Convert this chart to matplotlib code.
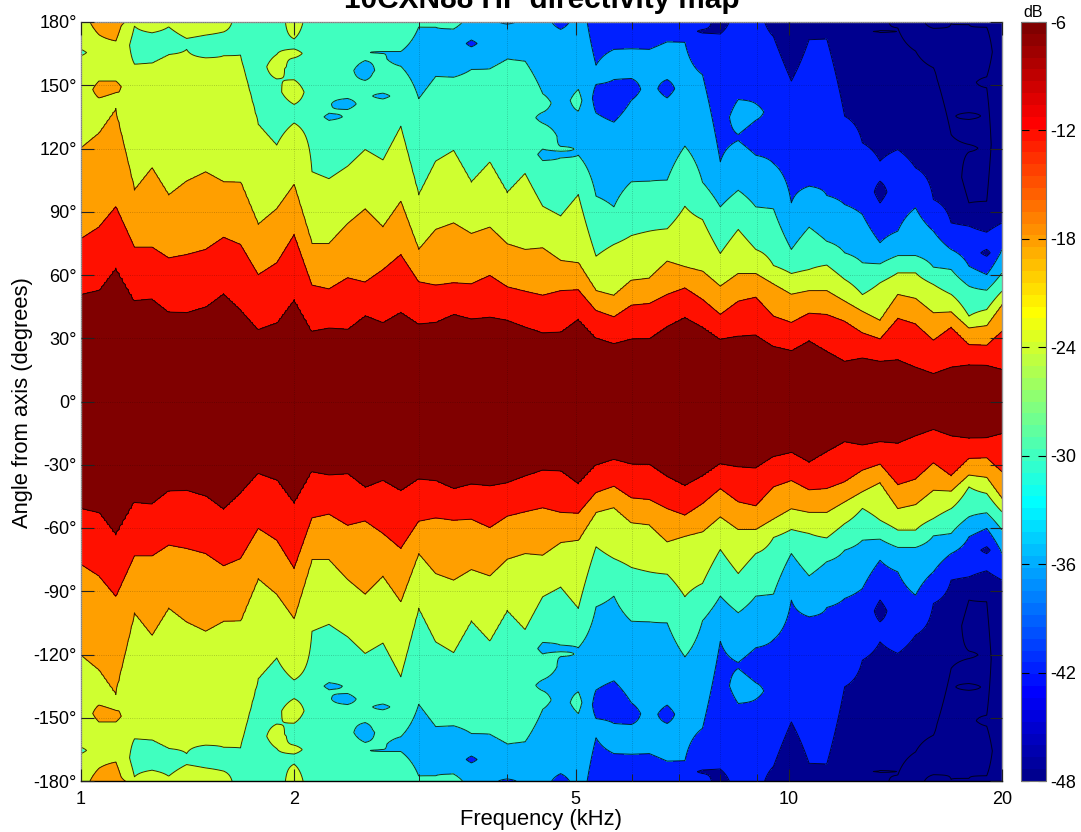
import matplotlib
matplotlib.use("Agg")
import matplotlib.pyplot as plt
import numpy as np
from matplotlib.cm import ScalarMappable
from matplotlib.colors import ListedColormap, Normalize
from matplotlib.ticker import FixedLocator, NullFormatter

plt.rcParams['font.family'] = ['Liberation Sans', 'DejaVu Sans']

# measured frequencies (1/12 octave), kHz
freqs = [1.00, 1.06, 1.12, 1.19, 1.26, 1.33, 1.41, 1.50, 1.59, 1.68, 1.78, 1.89, 2.00,
         2.12, 2.24, 2.38, 2.52, 2.67, 2.83, 3.00, 3.17, 3.36, 3.56, 3.78, 4.00, 4.24,
         4.49, 4.76, 5.04, 5.34, 5.66, 5.99, 6.35, 6.73, 7.13, 7.55, 8.00, 8.48, 8.98,
         9.51, 10.08, 10.68, 11.31, 11.99, 12.70, 13.45, 14.25, 15.10, 16.00, 16.95,
         17.96, 19.03, 20.00]

# angle where the level drops through -6, -12, -18 dB, read per frequency
edge_6db = [50.8, 52.8, 63.4, 47.9, 48.7, 42.5, 42.2, 44.9, 51.2, 43.6, 34.2, 37.3, 48.4,
            33.4, 34.9, 34.3, 40.8, 37.5, 42.4, 36.8, 37.6, 41.4, 39.2, 40.0, 38.6, 35.4,
            32.6, 33.0, 39.2, 30.2, 27.5, 29.7, 29.9, 35.7, 40.0, 35.4, 29.6, 31.0, 31.6,
            26.2, 24.2, 28.9, 23.9, 19.1, 20.7, 19.1, 19.8, 16.3, 13.3, 16.3, 17.4, 17.2, 15.2]
edge_12db = [77.2, 82.7, 92.3, 73.2, 73.2, 68.1, 69.7, 72.1, 77.9, 74.5, 60.2, 65.8, 79.2,
             55.2, 53.4, 58.7, 56.6, 62.6, 69.7, 56.8, 55.2, 56.3, 55.8, 59.8, 54.4, 52.3,
             50.4, 52.6, 53.0, 43.2, 40.2, 45.7, 46.5, 50.8, 53.9, 48.4, 41.3, 47.6, 49.5,
             40.5, 37.5, 41.9, 41.3, 38.1, 32.6, 29.7, 39.5, 36.8, 29.1, 35.3, 27.0, 26.7, 33.4]
edge_18db = [120.3, 127.4, 139.0, 100.2, 110.8, 97.9, 104.5, 108.9, 104.2, 104.0, 84.0, 91.4, 102.9,
             74.9, 74.9, 84.4, 91.4, 82.8, 94.9, 72.1, 81.6, 84.7, 79.7, 82.7, 74.8, 72.1,
             72.9, 66.9, 65.8, 52.6, 50.3, 57.5, 58.5, 66.6, 63.9, 61.8, 54.7, 60.7, 60.7,
             55.8, 50.9, 52.6, 52.6, 47.6, 42.8, 38.4, 50.8, 48.9, 42.1, 42.5, 34.9, 36.0, 46.0]

# above -18 dB: (band, angle where the band ends) going up to 180 deg
# band n covers -48+6n .. -42+6n dB, band -1 is below -48 dB
upper_bands = [
    [(4, 164), (3, 167), (4, 180)],
    [(4, 144), (5, 152), (4, 174), (5, 180)],
    [(4, 146.5), (5, 152), (4, 171), (5, 180)],
    [(4, 160), (3, 178), (4, 180)],
    [(4, 160.6), (3, 174.9), (4, 180)],
    [(4, 164.6), (3, 177.7), (4, 180)],
    [(4, 167), (3, 172.2), (4, 180)],
    [(4, 163), (3, 173.8), (4, 180)],
    [(4, 164), (3, 175.3), (4, 180)],
    [(4, 164.3), (3, 180)],
    [(4, 131.4), (3, 180)],
    [(4, 121.6), (3, 153), (4, 164.6), (3, 180)],
    [(4, 132.1), (3, 140.9), (4, 152.6), (3, 163), (4, 167.2), (3, 172), (4, 180)],
    [(4, 108.9), (3, 180)],
    [(4, 105.7), (3, 133.4), (2, 136.6), (3, 180)],
    [(4, 111.6), (3, 138.5), (2, 143.7), (3, 180)],
    [(4, 119.5), (3, 152.3), (2, 161.7), (3, 180)],
    [(4, 114.6), (3, 143.5), (2, 146.2), (3, 165.2), (2, 166), (3, 180)],
    [(4, 130.6), (3, 159), (2, 166), (3, 180)],
    [(4, 98), (3, 143.6), (2, 177.7), (3, 180)],
    [(4, 114), (3, 154.2), (2, 177.5), (3, 180)],
    [(4, 119.1), (3, 153.8), (2, 176.7), (3, 180)],
    [(4, 104), (3, 157.5), (2, 168.2), (1, 171.4), (2, 180)],
    [(4, 113.5), (3, 157.8), (2, 180)],
    [(4, 99), (3, 162.5), (2, 179), (1, 180)],
    [(4, 108.1), (3, 161.4), (2, 180)],
    [(4, 92.6), (3, 114.3), (2, 119.7), (3, 132), (2, 137.2), (3, 146), (2, 180)],
    [(4, 88), (3, 115.6), (2, 118.7), (3, 121), (2, 176.5), (1, 180)],
    [(4, 98.2), (3, 116.8), (2, 137.7), (3, 148), (2, 180)],
    [(4, 68.9), (3, 97.4), (2, 136.9), (1, 150.4), (2, 159.5), (1, 180)],
    [(4, 74.5), (3, 92.3), (2, 132.5), (1, 152.7), (2, 167), (1, 180)],
    [(4, 78.7), (3, 104.2), (2, 142.9), (1, 153.2), (2, 167.3), (1, 180)],
    [(4, 80.8), (3, 104.5), (2, 167), (1, 180)],
    [(4, 81.9), (3, 105), (2, 144), (1, 152.7), (2, 170.6), (1, 180)],
    [(4, 92.6), (3, 121.1), (2, 170.4), (1, 180)],
    [(4, 86.3), (3, 104), (2, 155), (1, 174.8), (0, 176.4), (1, 180)],
    [(4, 70.2), (3, 92.3), (2, 113.7), (1, 174.4), (0, 180)],
    [(4, 81.6), (3, 100.2), (2, 123.8), (1, 126.6), (2, 143.2), (1, 180)],
    [(4, 72.1), (3, 92.3), (2, 116.8), (1, 133.4), (2, 141.2), (1, 180)],
    [(4, 64.5), (3, 91.4), (2, 112.9), (1, 173.1), (0, 180)],
    [(4, 60.7), (3, 72.1), (2, 94.2), (1, 152), (0, 180)],
    [(4, 62.6), (3, 82.7), (2, 102.1), (1, 171.7), (0, 180)],
    [(4, 64.7), (3, 76), (2, 97.7), (1, 172), (0, 180)],
    [(4, 57.9), (3, 70.5), (2, 93.4), (1, 135.3), (0, 180)],
    [(4, 50.7), (3, 65.8), (2, 88.7), (1, 122.7), (0, 180)],
    [(4, 56.3), (3, 65.3), (2, 75.3), (1, 94.2), (0, 104.5), (1, 114), (0, 175.2), (-1, 175.8), (0, 180)],
    [(4, 61), (3, 69.2), (2, 80.8), (1, 119.5), (0, 177.2), (-1, 180)],
    [(4, 61), (3, 69.2), (2, 91.9), (1, 110.8), (0, 166.2), (-1, 180)],
    [(4, 55.5), (3, 63.7), (2, 80.8), (1, 95.8), (0, 158.3), (-1, 177), (0, 180)],
    [(4, 50.8), (3, 62.6), (2, 72.1), (1, 84.7), (0, 126.6), (-1, 179.3), (0, 180)],
    [(4, 40.5), (3, 54.7), (2, 64.2), (1, 83.2), (0, 94.2), (-1, 118.4), (0, 121.9), (-1, 133.8),
     (0, 137), (-1, 178.8), (0, 180)],
    [(4, 43.6), (3, 52.8), (2, 60.2), (1, 68.9), (0, 72.1), (1, 80.3), (0, 95), (-1, 148.8),
     (0, 154), (-1, 177.5), (0, 180)],
    [(4, 52.3), (3, 61), (2, 72.1), (1, 84.7), (0, 180)],
]

contour_levels = [-48, -42, -36, -30, -24, -18, -12, -6]
cbar_ticks = [-6, -12, -18, -24, -30, -36, -42, -48]
angle_ticks = [-180, -150, -120, -90, -60, -30, 0, 30, 60, 90, 120, 150, 180]
freq_ticks = [1, 2, 5, 10, 20]
freq_minor = [3, 4, 6, 7, 8, 9]

SUBSTEPS = 6
half_angles = np.arange(0, 180.25, 0.25)


def band_knots(bands, x0, v0):
    # (angle, dB) knots of one frequency from its band list
    xp, fp = [x0], [v0]
    for i, (band, top) in enumerate(bands):
        mid = -45 + 6 * band
        if i == len(bands) - 1:
            xp.append(top)
            fp.append(mid)
            break
        edge = -42 + 6 * min(band, bands[i + 1][0])
        if fp[-1] == edge:
            # band sits between two crossings of the same level
            xp.append((xp[-1] + top) / 2)
            fp.append(edge + np.copysign(2, mid - edge))
        xp.append(top)
        fp.append(edge)
    return xp, fp


def shared_edges(a, b):
    # how many edges of two neighbouring columns are the same falling contour
    p = 0
    while p < min(len(a), len(b)) - 1:
        same = a[p][0] == b[p][0] and a[p + 1][0] == b[p + 1][0]
        falling = a[p + 1][0] == a[p][0] - 1
        span_a = a[p + 1][1] - a[p][1]
        span_b = b[p + 1][1] - b[p][1]
        if not (same and falling and span_a > 12 and span_b > 12):
            break
        p += 1
    return max(p, 3)


def blend_columns(a, b, t):
    # shared edges move in a straight line, the rest is mixed by value
    p = shared_edges(a, b)
    shared = [(a[i][0], a[i][1] * (1 - t) + b[i][1] * t) for i in range(p)]
    xp, fp = band_knots(shared + [(a[p][0], 180)], 0.0, -3.0)
    out = np.interp(half_angles, xp, fp)
    level = -42 + 6 * min(a[p - 1][0], a[p][0])
    edge_a, edge_b, edge_t = a[p - 1][1], b[p - 1][1], shared[-1][1]
    xa, fa = band_knots(a[p:], edge_a, level)
    xb, fb = band_knots(b[p:], edge_b, level)
    # warp only just above the moving edge, higher up the angles stay as read
    top = min(max(edge_a, edge_b) + 10, 179.5)
    rest = (np.interp(np.interp(half_angles, [edge_t, top, 180], [edge_a, top, 180]), xa, fa) * (1 - t)
            + np.interp(np.interp(half_angles, [edge_t, top, 180], [edge_b, top, 180]), xb, fb) * t)
    above = half_angles >= edge_t
    out[above] = rest[above]
    return out


all_bands = []
for k in range(len(freqs)):
    all_bands.append([(7, edge_6db[k]), (6, edge_12db[k]), (5, edge_18db[k])] + upper_bands[k])

grid_freqs, columns = [], []
for k in range(len(freqs) - 1):
    for t in np.arange(SUBSTEPS) / SUBSTEPS:
        grid_freqs.append(freqs[k] * (freqs[k + 1] / freqs[k]) ** t)
        columns.append(blend_columns(all_bands[k], all_bands[k + 1], t))
grid_freqs.append(freqs[-1])
columns.append(blend_columns(all_bands[-2], all_bands[-1], 1.0))
half_map = np.array(columns).T

# the polar map is symmetric about the axis
angles = np.concatenate([-half_angles[:0:-1], half_angles])
level_map = np.vstack([half_map[:0:-1], half_map])

W, H = 1081, 832
fig = plt.figure(figsize=(W / 100, H / 100), dpi=100)
ax = fig.add_axes([81 / W, 1 - 781 / H, 921 / W, 759 / H])
cax = fig.add_axes([1021 / W, 1 - 781 / H, 25 / W, 759 / H])

# MATLAB style jet with 64 steps
x = (np.arange(64) + 1) / 64
jet64 = np.clip(np.column_stack([np.minimum(4 * x - 1.5, 4.5 - 4 * x),
                                 np.minimum(4 * x - 0.5, 3.5 - 4 * x),
                                 np.minimum(4 * x + 0.5, 2.5 - 4 * x)]), 0, 1)
cmap = ListedColormap(jet64)
norm = Normalize(-48, -6)
fill_levels = [-70] + contour_levels + [10]
fill_colors = [cmap(norm(-48))] + [cmap(norm(v)) for v in contour_levels]

ax.contourf(grid_freqs, angles, level_map, levels=fill_levels, colors=fill_colors)
ax.contour(grid_freqs, angles, level_map, levels=contour_levels, colors='k',
           linewidths=0.7, linestyles='solid', alpha=0.8)

ax.set_xscale('log')
ax.set_xlim(1, 20)
ax.set_ylim(-180, 180)
ax.set_xticks(freq_ticks)
ax.set_xticklabels([str(f) for f in freq_ticks])
ax.xaxis.set_minor_locator(FixedLocator(freq_minor))
ax.xaxis.set_minor_formatter(NullFormatter())
ax.set_yticks(angle_ticks)
ax.set_yticklabels([f"{a}\N{DEGREE SIGN}" for a in angle_ticks])
ax.tick_params(axis='both', which='major', direction='in', length=9, width=0.8, labelsize=13,
               top=True, right=True, pad=3, color='#222222')
ax.tick_params(axis='x', which='major', pad=7)
ax.tick_params(axis='x', which='minor', direction='in', length=5, width=0.7, top=True, color='#222222')
ax.grid(True, which='both', color='k', linestyle=':', linewidth=0.6, alpha=0.25)
ax.set_axisbelow(False)
for name, sp in ax.spines.items():
    sp.set_color('#999999' if name != 'bottom' else 'black')
    sp.set_linewidth(1.0)

fig.text(542 / W, 1 - 8 / H, "10CXN88 HF directivity map", ha='center', va='baseline',
         fontsize=21.4, fontweight='bold')
fig.text(541 / W, 1 - 825 / H, "Frequency (kHz)", ha='center', va='baseline', fontsize=15.8)
fig.text(23 / W, 1 - 403 / H, "Angle from axis (degrees)", ha='center', va='center',
         rotation=90, fontsize=15.8)

cb = fig.colorbar(ScalarMappable(norm=norm, cmap=cmap), cax=cax, ticks=cbar_ticks)
cb.ax.tick_params(direction='in', length=6, width=0.8, labelsize=13, left=True, right=True, pad=3)
cb.outline.set_edgecolor('#777777')
cb.outline.set_linewidth(0.8)
cb.ax.set_yticklabels([str(t) for t in cbar_ticks])
fig.text(1033 / W, 1 - 17 / H, "dB", ha='center', va='baseline', fontsize=11.5)

fig.savefig("out.png", dpi=100)
